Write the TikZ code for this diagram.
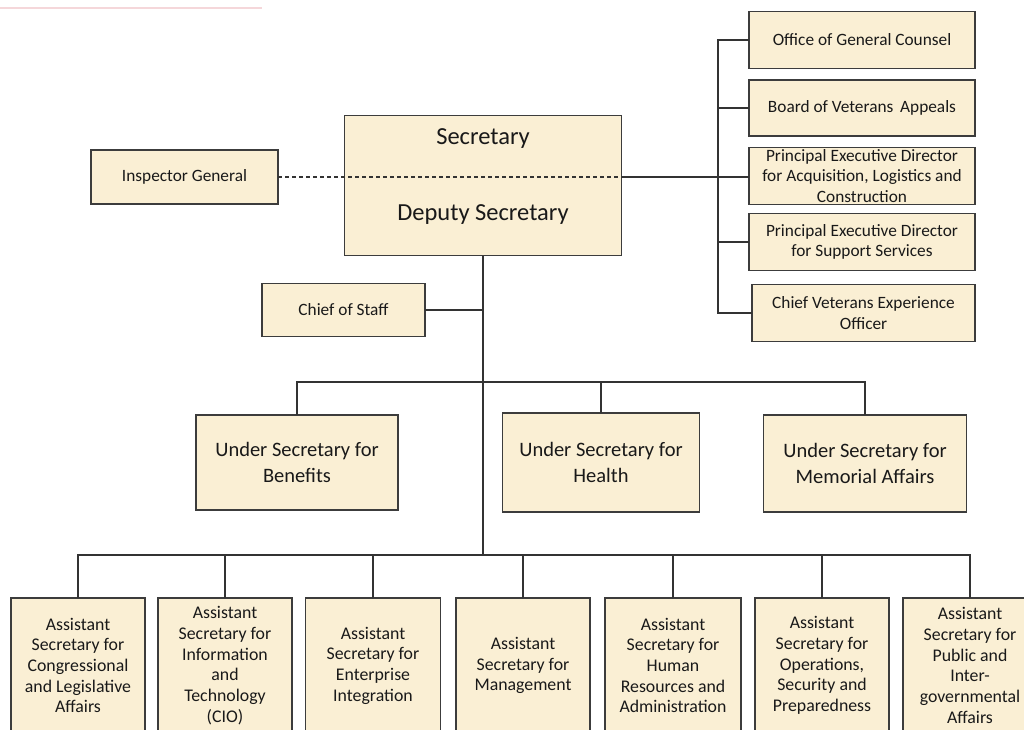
\documentclass[tikz,border=0pt]{standalone}
\usepackage{fontspec}
\setmainfont{Carlito}
\begin{document}
\begin{tikzpicture}[x=1pt,y=-1pt,
  box/.style={draw=boxline,line width=1.7pt,fill=parch,inner sep=1pt,outer sep=0pt,align=center,text=black!90},
  small/.style={box,font=\fontsize{17.3}{20.5}\selectfont},
  mid/.style={box,font=\fontsize{20.5}{26}\selectfont},
  bot/.style={box,font=\fontsize{17.8}{20.7}\selectfont,minimum width=134pt,minimum height=135pt},
  conn/.style={draw=black!80,line width=1.8pt},
  dconn/.style={conn,line width=1.6pt,dashed,dash pattern=on 4pt off 3pt}]
\definecolor{parch}{RGB}{250,239,212}
\definecolor{boxline}{RGB}{60,60,60}
\definecolor{pinkl}{RGB}{245,215,218}
\useasboundingbox (0,0) rectangle (1024,729);
\fill[white] (0,0) rectangle (1024,729);
\draw[pinkl,line width=2pt] (0,8) -- (262,8);
% top
\node[box,minimum width=277pt,minimum height=140pt] (sec) at (483,185.5) {};
\node[font=\fontsize{24.5}{28}\selectfont,text=black!90] (secT) at (483,139) {Secretary};
\node[font=\fontsize{24.5}{28}\selectfont,text=black!90] (secD) at (483,215) {Deputy Secretary};
\node[small,minimum width=187pt,minimum height=54pt] (ig) at (184.5,177) {Inspector General};
% right column
\node[small,minimum width=226pt,minimum height=57pt] (ogc) at (862,40) {Office of General Counsel};
\node[small,minimum width=226pt,minimum height=56pt] (bva) at (862,108) {Board of Veterans\, Appeals};
\node[small,minimum width=226pt,minimum height=57pt,inner sep=0pt] (alc) at (862,176) {Principal Executive Director\\for Acquisition, Logistics and\\Construction};
\node[small,minimum width=226pt,minimum height=57pt] (pss) at (862,242) {Principal Executive Director\\for Support Services};
\node[small,minimum width=223pt,minimum height=57pt] (cveo) at (863.5,313) {Chief Veterans Experience\\Officer};
\node[small,minimum width=163pt,minimum height=53pt] (cos) at (343.5,310) {Chief of Staff};
% under secretaries
\node[mid,minimum width=202pt,minimum height=95pt] (usb) at (297,462.5) {Under Secretary for\\Benefits};
\node[mid,minimum width=197pt,minimum height=99pt] (ush) at (601,462.5) {Under Secretary for\\Health};
\node[mid,minimum width=203pt,minimum height=97pt] (usm) at (865,463.5) {Under Secretary for\\Memorial Affairs};
% assistant secretaries
\node[bot] (a1) at (78,665.5) {Assistant\\Secretary for\\Congressional\\and Legislative\\Affairs};
\node[bot] (a2) at (225,665.5) {Assistant\\Secretary for\\Information\\and\\Technology\\(CIO)};
\node[bot,minimum width=135pt] (a3) at (373,665.5) {Assistant\\Secretary for\\Enterprise\\Integration};
\node[bot] (a4) at (523,665.5) {Assistant\\Secretary for\\Management};
\node[bot,minimum width=136pt] (a5) at (673,665.5) {Assistant\\Secretary for\\Human\\Resources and\\Administration};
\node[bot] (a6) at (822,665.5) {Assistant\\Secretary for\\Operations,\\Security and\\Preparedness};
\node[bot] (a7) at (970,665.5) {Assistant\\Secretary for\\Public and\\Inter-\\governmental\\Affairs};
% junctions
\coordinate (j1) at (483,382);
\coordinate (j2) at (483,555);
\coordinate (rb) at (718,177);
% connectors
\draw[dconn] (ig.east) -- (ig.east -| sec.east);
\draw[conn] (ig.east -| sec.east) -- (alc.west |- rb);
\draw[conn] (ogc.west) -- (ogc.west -| rb) -- (cveo.west -| rb) -- (cveo.west);
\draw[conn] (bva.west) -- (bva.west -| rb);
\draw[conn] (pss.west) -- (pss.west -| rb);
\draw[conn] (sec.south) -- (j2);
\draw[conn] (cos.east) -- (cos.east -| j1);
\draw[conn] (usb.north) -- (usb.north |- j1) -- (usm.north |- j1) -- (usm.north);
\draw[conn] (ush.north) -- (ush.north |- j1);
\draw[conn] (a1.north) -- (a1.north |- j2) -- (a7.north |- j2) -- (a7.north);
\foreach \n in {a2,a3,a4,a5,a6} \draw[conn] (\n.north) -- (\n.north |- j2);
\end{tikzpicture}
\end{document}
